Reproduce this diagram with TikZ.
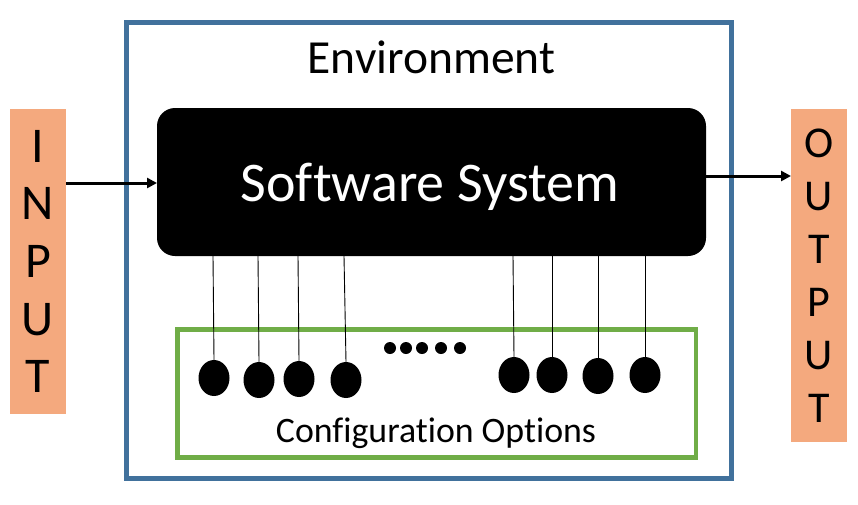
\documentclass[tikz,border=0pt]{standalone}
\usepackage{fontspec}
\setmainfont[Ligatures={NoCommon}]{Carlito}
\usetikzlibrary{shapes.geometric,arrows.meta}
\definecolor{envblue}{HTML}{41719C}
\definecolor{optgreen}{HTML}{70AD47}
\definecolor{ioorange}{HTML}{F4A97E}
\begin{document}
\begin{tikzpicture}[x=1pt,y=-1pt,
  frame/.style={draw,rectangle,inner sep=0pt,outer sep=0pt,line width=4.5pt},
  iobox/.style={rectangle,fill=ioorange,inner sep=0pt,outer sep=0pt,minimum width=56pt,align=center},
  opt/.style={ellipse,fill=black,inner sep=0pt,outer sep=0pt,minimum width=31pt,minimum height=36pt},
  dotmark/.style={circle,fill=black,inner sep=0pt,minimum size=12pt},
  wire/.style={line width=0.9pt},
  flow/.style={line width=3pt,-{Triangle[length=10pt,width=10pt]}}
]
\useasboundingbox (0,0) rectangle (858,504);
% environment
\node[frame,draw=envblue,minimum width=605pt,minimum height=456pt] (env) at (429,250.5) {};
\node[anchor=base,font=\fontsize{47.5}{57}\selectfont] (envlabel) at (431.5,73) {Environment};
% software system
\node[rectangle,fill=black,rounded corners=18pt,inner sep=0pt,outer sep=0pt,minimum width=549pt,minimum height=148pt] (sw) at (431.5,182) {};
\node[anchor=base,text=white,font=\fontsize{56}{66}\selectfont] (swlabel) at (430,201) {Software System};
% configuration options
\node[frame,draw=optgreen,minimum width=518.5pt,minimum height=128pt] (cfg) at (436.75,393.5) {};
\node[anchor=base,font=\fontsize{35.8}{43}\selectfont] (cfglabel) at (436,442) {Configuration Options};
% input / output
\node[iobox,minimum height=305pt,font=\fontsize{50}{57.6}\selectfont] (in) at (38,261.5) {I\\N\\P\\U\\T};
\node[iobox,minimum height=333pt,font=\fontsize{44}{53}\selectfont] (out) at (819,275.5) {O\\U\\T\\P\\U\\T};
% options
\node[opt] (o1) at (214,378) {};
\node[opt] (o2) at (259,380) {};
\node[opt] (o3) at (299,379) {};
\node[opt] (o4) at (346,380) {};
\node[opt] (o5) at (514,375) {};
\node[opt] (o6) at (552,375) {};
\node[opt] (o7) at (598,376) {};
\node[opt] (o8) at (645,375) {};
\node[dotmark] (d1) at (390,348) {};
\node[dotmark] (d2) at (406,348) {};
\node[dotmark] (d3) at (422,348) {};
\node[dotmark] (d4) at (441,348) {};
\node[dotmark] (d5) at (460,348) {};
% wire tops on the software system
\coordinate (t1) at (213,256);
\coordinate (t2) at (258,256);
\coordinate (t3) at (298,256);
\coordinate (t4) at (344,256);
\coordinate (t5) at (513,256);
\coordinate (t6) at (552,256);
\coordinate (t7) at (598,256);
\coordinate (t8) at (645,256);
\foreach \i in {1,...,8} { \draw[wire] (t\i) -- (o\i.north); }
% flows
\draw[flow] (in.east |- 0,183) -- (sw.west |- 0,183);
\coordinate (outstart) at (706,176);
\draw[flow] (outstart) -- (out.west |- outstart);
\end{tikzpicture}
\end{document}
